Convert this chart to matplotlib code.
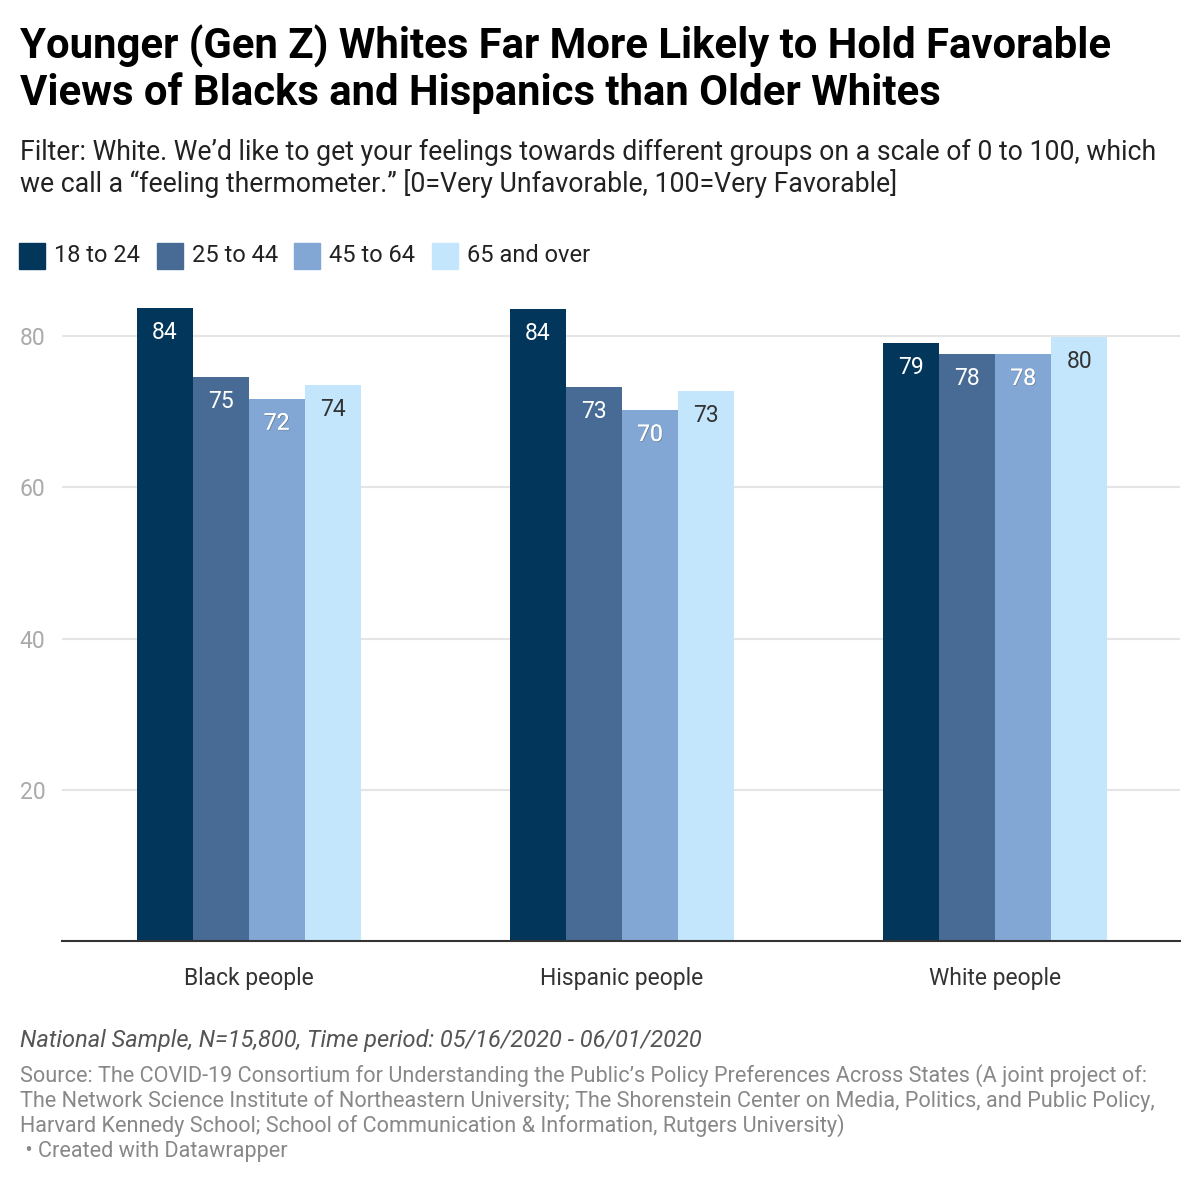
import matplotlib
matplotlib.use("Agg")
import matplotlib.pyplot as plt
import matplotlib.patheffects as pe
import numpy as np

plt.rcParams['font.family'] = ['Roboto', 'DejaVu Sans']

categories = ["Black people", "Hispanic people", "White people"]
age_groups = ["18 to 24", "25 to 44", "45 to 64", "65 and over"]
values = {
    "18 to 24": [83.7, 83.6, 79.1],
    "25 to 44": [74.6, 73.3, 77.6],
    "45 to 64": [71.7, 70.2, 77.6],
    "65 and over": [73.5, 72.7, 79.9],
}
colors = ["#02365b", "#476b95", "#82a7d4", "#c3e6fd"]
label_colors = ["white", "white", "white", "#333333"]
yticks = [20, 40, 60, 80]

W = 1200
fig = plt.figure(figsize=(12, 12), dpi=100)
ax = fig.add_axes([62 / W, 1 - 941 / W, (1180 - 62) / W, (941 - 302) / W])

x = np.arange(len(categories))
bw = 0.15
for i, grp in enumerate(age_groups):
    pos = x + (i - 1.5) * bw
    bars = ax.bar(pos, values[grp], width=bw, color=colors[i], zorder=3)
    for b, v in zip(bars, values[grp]):
        t = ax.annotate(f"{v:.0f}", (b.get_x() + b.get_width() / 2, v),
                        xytext=(0, -17.5), textcoords="offset points",
                        ha="center", va="center", fontsize=16.5,
                        color=label_colors[i], zorder=4)
        if i == 2:
            t.set_path_effects([pe.withSimplePatchShadow(offset=(0.6, -0.6), alpha=0.4),
                                pe.Normal()])

ax.set_xlim(-0.5, 2.495)
ax.set_ylim(0, 84.5)
ax.set_yticks(yticks)
ax.set_yticklabels([str(t) for t in yticks])
ax.tick_params(axis="y", length=0, pad=12, labelsize=16.5, labelcolor="#aaaaaa")
ax.set_xticks(x)
ax.set_xticklabels(categories)
ax.tick_params(axis="x", length=0, pad=19, labelsize=16.5, labelcolor="#333333")
ax.grid(axis="y", color="#e5e5e5", linewidth=1.5, zorder=0)
for s in ["top", "right", "left"]:
    ax.spines[s].set_visible(False)
ax.spines["bottom"].set_color("#333333")
ax.spines["bottom"].set_linewidth(1.5)
ax.spines["bottom"].set_zorder(5)

# title and subtitle
fig.text(20 / W, 1 - 58 / W, "Younger (Gen Z) Whites Far More Likely to Hold Favorable",
         fontsize=30.2, fontweight="bold", va="baseline", color="black")
fig.text(20 / W, 1 - 105 / W, "Views of Blacks and Hispanics than Older Whites",
         fontsize=30.2, fontweight="bold", va="baseline", color="black")
fig.text(20 / W, 1 - 160 / W,
         "Filter: White. We\u2019d like to get your feelings towards different groups on a scale of 0 to 100, which",
         fontsize=19.2, va="baseline", color="#222222")
fig.text(20 / W, 1 - 192 / W,
         "we call a \u201cfeeling thermometer.\u201d [0=Very Unfavorable, 100=Very Favorable]",
         fontsize=19.2, va="baseline", color="#222222")

# legend
leg_x = [19, 157, 294, 432]
for lx, c, lab in zip(leg_x, colors, age_groups):
    fig.patches.append(plt.Rectangle((lx / W, 1 - 269 / W), 26 / W, 26 / W,
                                     transform=fig.transFigure, color=c))
    fig.text((lx + 35) / W, 1 - 256 / W, lab, fontsize=17, va="center", color="#222222")

# footer
fig.text(20 / W, 1 - 1041 / W, "National Sample, N=15,800, Time period: 05/16/2020 - 06/01/2020",
         fontsize=17, style="italic", va="center", color="#555555")
source = [
    "Source: The COVID-19 Consortium for Understanding the Public\u2019s Policy Preferences Across States (A joint project of:",
    "The Network Science Institute of Northeastern University; The Shorenstein Center on Media, Politics, and Public Policy,",
    "Harvard Kennedy School; School of Communication & Information, Rutgers University)",
    " \u2022 Created with Datawrapper",
]
for k, line in enumerate(source):
    fig.text(20 / W, 1 - (1076 + 25 * k) / W, line, fontsize=15.6, va="center", color="#888888")

fig.savefig("out.png", dpi=100, facecolor="white")
